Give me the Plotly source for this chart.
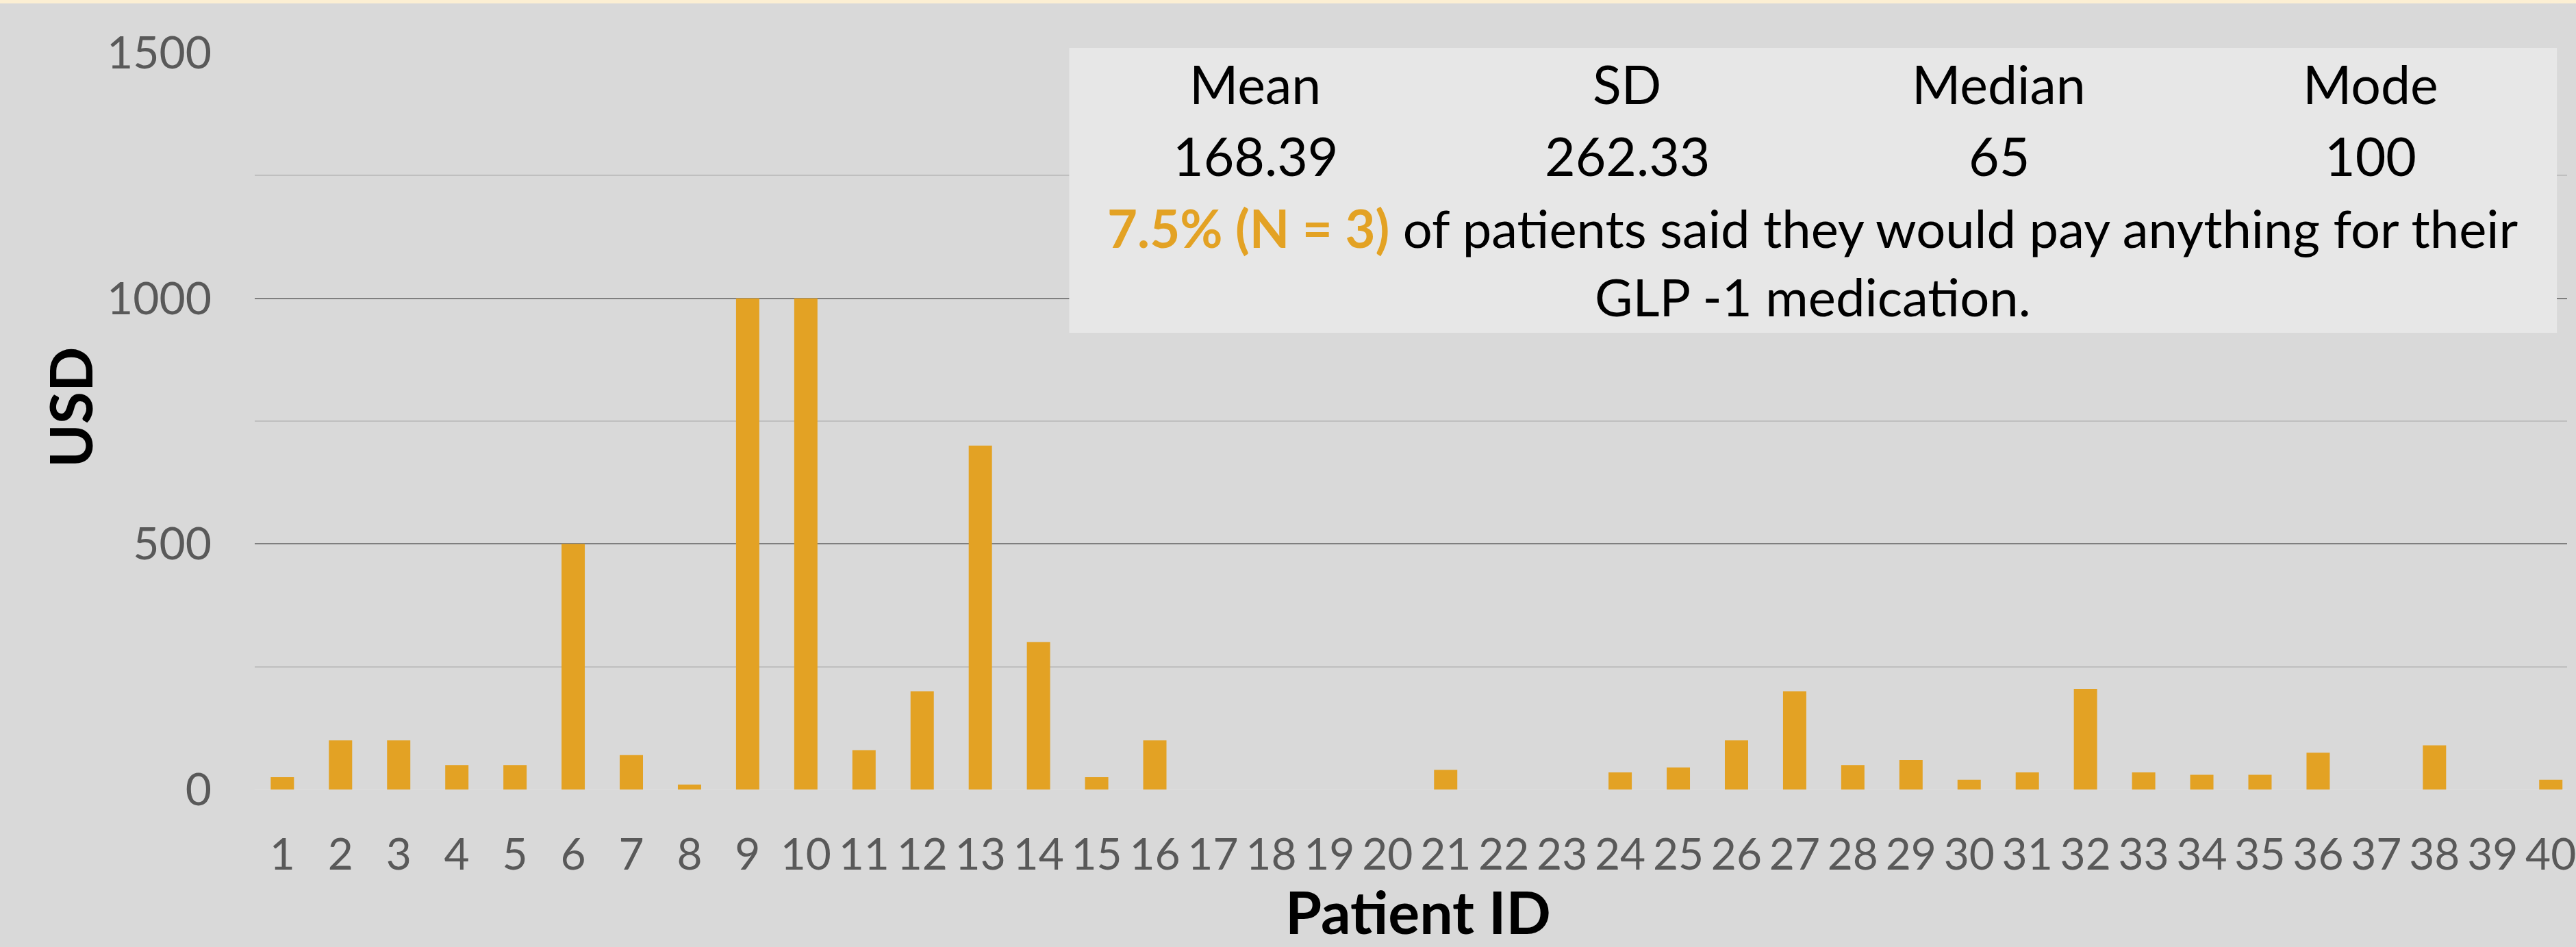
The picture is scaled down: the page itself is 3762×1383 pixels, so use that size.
import plotly.graph_objects as go

# ---- data ----
patient_ids = ["1", "2", "3", "4", "5", "6", "7", "8", "9", "10",
               "11", "12", "13", "14", "15", "16", "17", "18", "19", "20",
               "21", "22", "23", "24", "25", "26", "27", "28", "29", "30",
               "31", "32", "33", "34", "35", "36", "37", "38", "39", "40"]
usd = [25, 100, 100, 50, 50, 500, 70, 10, 1000, 1000,
       80, 200, 700, 300, 25, 100, None, None, None, None,
       40, None, None, 35, 45, 100, 200, 50, 60, 20,
       35, 205, 35, 30, 30, 75, None, 90, None, 20]
y_ticks = [0, 500, 1000, 1500]
stat_names = ["Mean", "SD", "Median", "Mode"]
stat_values = ["168.39", "262.33", "65", "100"]
note_highlight = "7.5% (N = 3)"
note_line1 = " of patients said they would pay anything for their"
note_line2 = "GLP -1 medication."
x_title = "Patient ID"
y_title = "USD"

# ---- style ----
W, H = 3762, 1383
L, R, T, B = 372, 0, 77, 230
PW, PH = W - L - R, H - T - B
FONT = "Lato"
BAR = "#E3A224"
BG = "#D9D9D9"


def px(x):
    return (x - L) / PW


def py(y):
    return (H - B - y) / PH


fig = go.Figure()
fig.add_trace(go.Bar(x=patient_ids, y=usd, marker=dict(color=BAR, line=dict(width=0)),
                     hoverinfo="skip"))

fig.update_layout(
    width=W, height=H,
    margin=dict(l=L, r=R, t=T, b=B, pad=0),
    paper_bgcolor=BG, plot_bgcolor=BG,
    bargap=0.6, showlegend=False,
    font=dict(family=FONT, color="#595959"),
)
fig.update_xaxes(
    type="category", range=[-0.475, 39.28],
    showgrid=False, showline=False, zeroline=False, ticks="",
    tickfont=dict(family=FONT, size=64, color="#595959"),
    ticklabelstandoff=52,
)
fig.update_yaxes(
    range=[0, 1500], tickvals=y_ticks, ticktext=[str(v) for v in y_ticks],
    showgrid=True, gridcolor="#7F7F7F", gridwidth=2,
    minor=dict(dtick=250, tick0=0, showgrid=True, gridcolor="#BFBFBF", gridwidth=2),
    zeroline=True, zerolinecolor="#DCDCDC", zerolinewidth=2,
    showline=False, ticks="",
    tickfont=dict(family=FONT, size=66, color="#595959"),
    ticklabelstandoff=62,
)

# axis titles
fig.add_annotation(x=px(2078), y=py(1330), xref="paper", yref="paper",
                   text=f"<b>{x_title}</b>", showarrow=False,
                   xanchor="center", yanchor="middle",
                   font=dict(family=FONT, size=86, color="#000000"))
fig.add_annotation(x=px(100), y=py(595), xref="paper", yref="paper",
                   text=f"<b>{y_title}</b>", showarrow=False, textangle=-90,
                   xanchor="center", yanchor="middle",
                   font=dict(family=FONT, size=86, color="#000000"))

# thin cream strip at the very top
fig.add_shape(type="rect", xref="paper", yref="paper", x0=px(-50), x1=px(W + 50),
              y0=py(5), y1=py(-5), fillcolor="#FCEFD3", line=dict(width=0), layer="above")

# statistics box
box_x0, box_x1, box_y0, box_y1 = 1566, 3747, 70, 486
fig.add_shape(type="rect", xref="paper", yref="paper", x0=px(box_x0), x1=px(box_x1),
              y0=py(box_y1), y1=py(box_y0), fillcolor="#E7E7E7", line=dict(width=0), layer="above")

col_w = (box_x1 - box_x0) / 4
for i, (name, val) in enumerate(zip(stat_names, stat_values)):
    cx = box_x0 + col_w * (i + 0.5)
    fig.add_annotation(x=px(cx), y=py(122), xref="paper", yref="paper", text=name,
                       showarrow=False, xanchor="center", yanchor="middle",
                       font=dict(family=FONT, size=77, color="#000000"))
    fig.add_annotation(x=px(cx), y=py(227), xref="paper", yref="paper", text=val,
                       showarrow=False, xanchor="center", yanchor="middle",
                       font=dict(family=FONT, size=77, color="#000000"))

box_cx = (box_x0 + box_x1) / 2
fig.add_annotation(x=px(box_cx), y=py(332), xref="paper", yref="paper",
                   text=f"<b><span style='color:{BAR}'>{note_highlight}</span></b>{note_line1}",
                   showarrow=False, xanchor="center", yanchor="middle",
                   font=dict(family=FONT, size=76, color="#000000"))
fig.add_annotation(x=px(box_cx), y=py(433), xref="paper", yref="paper",
                   text=note_line2,
                   showarrow=False, xanchor="center", yanchor="middle",
                   font=dict(family=FONT, size=76, color="#000000"))

fig.write_html("out.html", config={"displayModeBar": False},
               post_script="document.body.style.margin='0';document.body.style.overflow='hidden';")
